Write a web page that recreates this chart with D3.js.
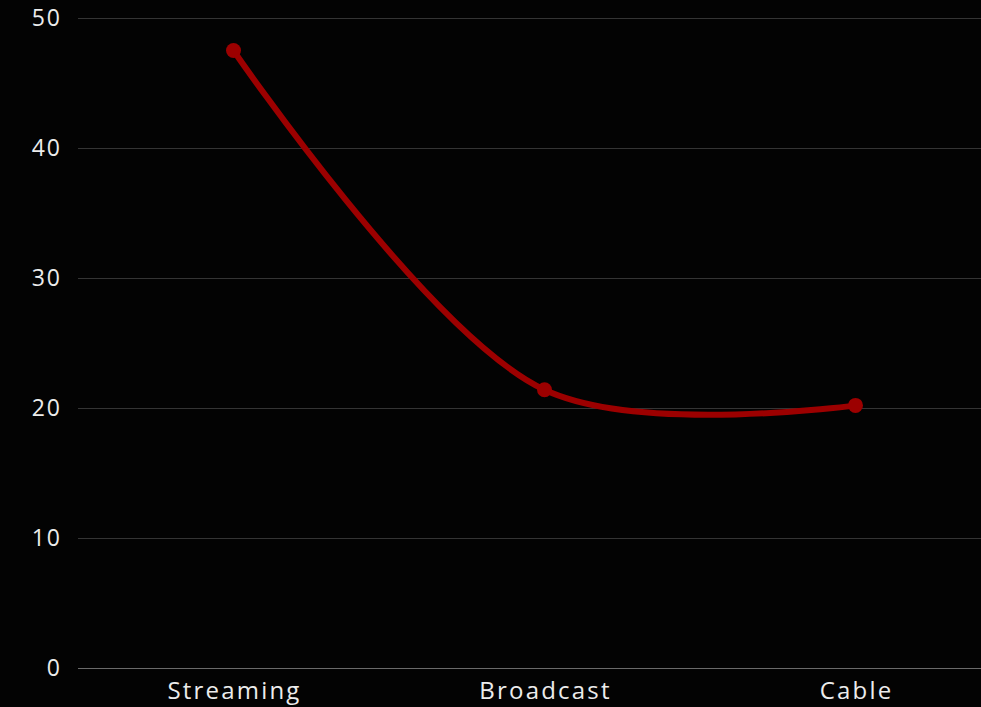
<!DOCTYPE html>
<html>
<head>
<meta charset="utf-8">
<script src="https://cdn.jsdelivr.net/npm/d3@7"></script>
<style>
  html, body { margin: 0; padding: 0; background: #030303; overflow: hidden; }
  svg { display: block; }
  text { font-family: "Open Sans", Lato, sans-serif; }
</style>
</head>
<body>
<svg id="chart" width="981" height="707"></svg>
<script>
const categories = ["Streaming", "Broadcast", "Cable"];
const values = [47.5, 21.4, 20.2];
const yTicks = [0, 10, 20, 30, 40, 50];

const W = 981, H = 707;
const margin = { top: 18, left: 78, bottom: 39 };
const bandW = 311;

const svg = d3.select("#chart");
svg.append("rect").attr("width", W).attr("height", H).attr("fill", "#030303");

const x = d3.scaleBand()
  .domain(categories)
  .range([margin.left, margin.left + bandW * categories.length]);

const y = d3.scaleLinear()
  .domain([0, 50])
  .range([H - margin.bottom, margin.top]);

// horizontal grid
svg.append("g")
  .selectAll("line")
  .data(yTicks)
  .join("line")
  .attr("x1", margin.left)
  .attr("x2", W)
  .attr("y1", d => y(d) + 0.5)
  .attr("y2", d => y(d) + 0.5)
  .attr("stroke", d => d === 0 ? "#6a6a6a" : "#343434")
  .attr("stroke-width", 1);

// y labels
svg.append("g")
  .selectAll("text")
  .data(yTicks)
  .join("text")
  .attr("x", 62)
  .attr("y", d => y(d))
  .attr("dy", "0.35em")
  .attr("text-anchor", "end")
  .attr("fill", "#ececec")
  .attr("font-size", 23)
  .attr("letter-spacing", 2)
  .text(d => d);

// x labels
svg.append("g")
  .selectAll("text")
  .data(categories)
  .join("text")
  .attr("x", d => x(d) + x.bandwidth() / 2 + 1)
  .attr("y", H - margin.bottom + 23)
  .attr("dy", "0.35em")
  .attr("text-anchor", "middle")
  .attr("fill", "#ececec")
  .attr("font-size", 24)
  .attr("letter-spacing", 2.2)
  .text(d => d);

const pts = categories.map((c, i) => [x(c) + x.bandwidth() / 2, y(values[i])]);

const line = d3.line().curve(d3.curveCatmullRom.alpha(0.5));

svg.append("path")
  .attr("d", line(pts))
  .attr("fill", "none")
  .attr("stroke", "#9c0000")
  .attr("stroke-width", 6)
  .attr("stroke-linecap", "round");

svg.append("g")
  .selectAll("circle")
  .data(pts)
  .join("circle")
  .attr("cx", d => d[0])
  .attr("cy", d => d[1])
  .attr("r", 7.5)
  .attr("fill", "#9c0000");
</script>
</body>
</html>
